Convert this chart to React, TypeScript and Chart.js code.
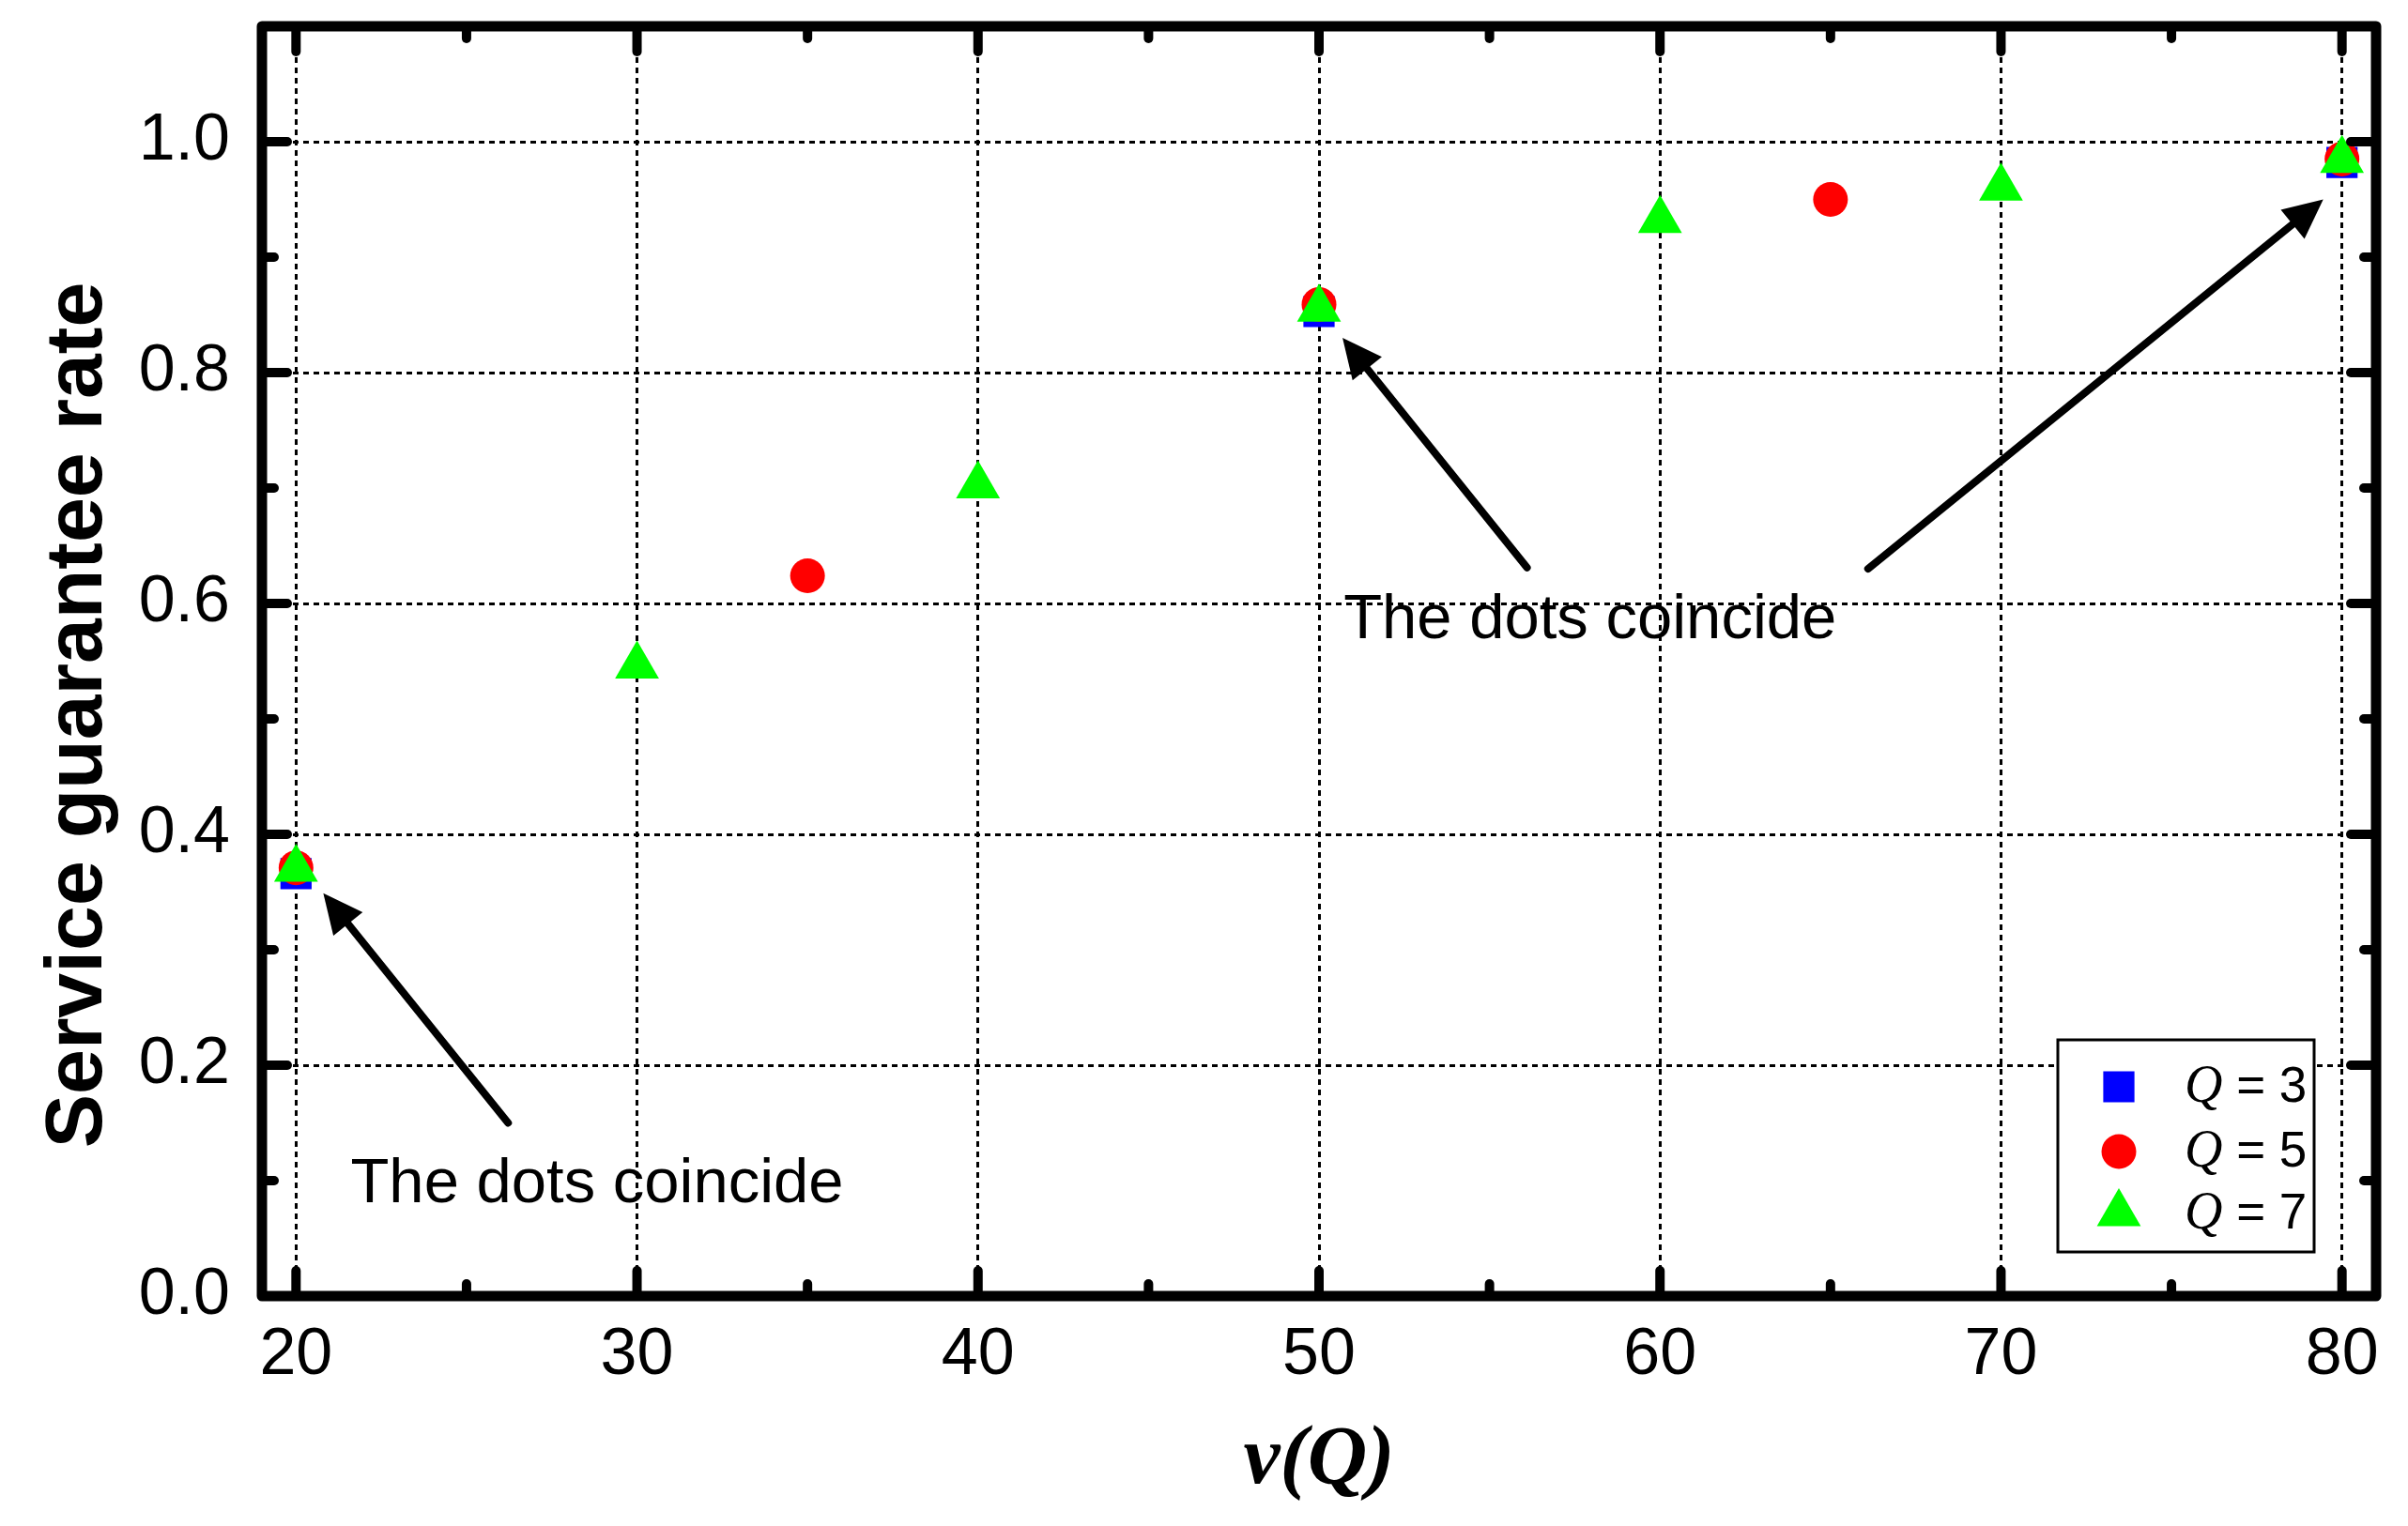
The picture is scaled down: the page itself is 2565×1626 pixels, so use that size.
import { useEffect, useRef } from 'react';
import { Chart, registerables } from 'chart.js';

Chart.register(...registerables);

// data
const xQ3 = [20, 50, 80];
const yQ3 = [0.366, 0.853, 0.982];
const xQ5 = [20, 35, 50, 65, 80];
const yQ5 = [0.371, 0.624, 0.859, 0.95, 0.985];
const xQ7 = [20, 30, 40, 50, 60, 70, 80];
const yQ7 = [0.37, 0.546, 0.702, 0.855, 0.932, 0.96, 0.984];
const qValues = ['3', '5', '7'];

const xTitle = 'v(Q)';
const yTitle = 'Service guarantee rate';
const noteText = 'The dots coincide';

// annotations in data units
const arrows = [
  { from: [26.22, 0.15], to: [20.8, 0.349] },
  { from: [56.1, 0.631], to: [50.69, 0.83] },
  { from: [66.1, 0.63], to: [79.45, 0.95] },
];
const notes = [
  { x: 21.6, y: 0.0813 },
  { x: 50.72, y: 0.57 },
];

const SANS = "'Liberation Sans', Arial, sans-serif";
const SERIF = "'Liberation Serif', 'Times New Roman', serif";

// same shapes as chart.js point styles, for the legend
function marker(ctx: CanvasRenderingContext2D, style: string, r: number, x: number, y: number) {
  ctx.beginPath();
  if (style === 'rect') {
    const s = Math.SQRT1_2 * r;
    ctx.rect(x - s, y - s, 2 * s, 2 * s);
  } else if (style === 'triangle') {
    ctx.moveTo(x, y - r);
    ctx.lineTo(x + Math.sin(Math.PI / 3 * 2) * r, y - Math.cos(Math.PI / 3 * 2) * r);
    ctx.lineTo(x + Math.sin(Math.PI / 3 * 4) * r, y - Math.cos(Math.PI / 3 * 4) * r);
    ctx.closePath();
  } else {
    ctx.arc(x, y, r, 0, Math.PI * 2);
  }
  ctx.fill();
}

const decor = {
  id: 'decor',
  afterDraw(chart: any) {
    const { ctx, chartArea: a, scales } = chart;
    const xs = scales.x;
    const ys = scales.y;
    ctx.save();
    ctx.strokeStyle = '#000';
    ctx.fillStyle = '#000';

    const seg = (x1: number, y1: number, x2: number, y2: number) => {
      ctx.beginPath();
      ctx.moveTo(x1, y1);
      ctx.lineTo(x2, y2);
      ctx.stroke();
    };

    // tick marks on all four sides, inward
    const xt = xs.ticks.map((t: any) => t.value);
    const yt = ys.ticks.map((t: any) => t.value);
    const mids = (v: number[]) => v.slice(1).map((t, i) => (t + v[i]) / 2);
    ctx.lineWidth = 10;
    ctx.lineCap = 'round';
    const xMarks = (vals: number[], len: number) =>
      vals.forEach((v) => {
        const p = xs.getPixelForValue(v);
        seg(p, a.bottom, p, a.bottom - len);
        seg(p, a.top, p, a.top + len);
      });
    const yMarks = (vals: number[], len: number) =>
      vals.forEach((v) => {
        const p = ys.getPixelForValue(v);
        seg(a.left, p, a.left + len, p);
        seg(a.right, p, a.right - len, p);
      });
    xMarks(xt, 27);
    xMarks(mids(xt), 13);
    yMarks(yt, 27);
    yMarks(mids(yt), 13);

    // frame
    ctx.lineWidth = 11;
    ctx.lineJoin = 'round';
    ctx.strokeRect(a.left, a.top, a.right - a.left, a.bottom - a.top);

    // arrows
    ctx.lineWidth = 8;
    arrows.forEach(({ from, to }) => {
      const x1 = xs.getPixelForValue(from[0]);
      const y1 = ys.getPixelForValue(from[1]);
      const x2 = xs.getPixelForValue(to[0]);
      const y2 = ys.getPixelForValue(to[1]);
      const ang = Math.atan2(y2 - y1, x2 - x1);
      const hl = 42;
      const hw = 20;
      const bx = x2 - Math.cos(ang) * hl;
      const by = y2 - Math.sin(ang) * hl;
      seg(x1, y1, bx + Math.cos(ang) * 6, by + Math.sin(ang) * 6);
      ctx.beginPath();
      ctx.moveTo(x2, y2);
      ctx.lineTo(bx - Math.sin(ang) * hw, by + Math.cos(ang) * hw);
      ctx.lineTo(bx + Math.sin(ang) * hw, by - Math.cos(ang) * hw);
      ctx.closePath();
      ctx.fill();
    });

    // notes
    ctx.font = `67px ${SANS}`;
    ctx.textAlign = 'left';
    ctx.textBaseline = 'alphabetic';
    notes.forEach((n) => {
      ctx.fillText(noteText, xs.getPixelForValue(n.x), ys.getPixelForValue(n.y));
    });

    // axis titles
    ctx.font = `bold italic 88px ${SERIF}`;
    ctx.textAlign = 'center';
    ctx.fillText(xTitle, (a.left + a.right) / 2, 1580);
    ctx.save();
    ctx.translate(108, 762);
    ctx.rotate(-Math.PI / 2);
    ctx.font = `bold 86px ${SANS}`;
    ctx.fillText(yTitle, 0, 0);
    ctx.restore();

    // legend
    const bw = 273;
    const bh = 226;
    const bx0 = a.right - 66 - bw;
    const by0 = a.bottom - 47 - bh;
    ctx.fillStyle = '#fff';
    ctx.fillRect(bx0, by0, bw, bh);
    ctx.lineWidth = 3;
    ctx.lineJoin = 'miter';
    ctx.strokeRect(bx0, by0, bw, bh);
    const rows = [50, 119, 185];
    chart.data.datasets.forEach((ds: any, i: number) => {
      const cy = by0 + rows[i];
      ctx.fillStyle = ds.backgroundColor;
      marker(ctx, ds.pointStyle, ds.pointRadius, bx0 + 65, cy);
      ctx.fillStyle = '#000';
      ctx.textAlign = 'left';
      ctx.font = `italic 56px ${SERIF}`;
      const tx = bx0 + 135;
      ctx.fillText('Q', tx, cy + 16);
      const qw = ctx.measureText('Q').width;
      ctx.font = `53px ${SANS}`;
      ctx.fillText(' = ' + qValues[i], tx + qw, cy + 16);
    });

    ctx.restore();
  },
};

const pts = (xv: number[], yv: number[]) => xv.map((x, i) => ({ x, y: yv[i] }));

export default function App() {
  const canvasRef = useRef<HTMLCanvasElement | null>(null);
  const chartRef = useRef<Chart | null>(null);

  useEffect(() => {
    document.body.style.margin = '0';
    document.body.style.overflow = 'hidden';
    if (!canvasRef.current) return;
    if (chartRef.current) chartRef.current.destroy();

    const tickFont = { family: SANS, size: 70 };

    chartRef.current = new Chart(canvasRef.current, {
      type: 'scatter',
      data: {
        datasets: [
          {
            label: 'Q = 3',
            data: pts(xQ3, yQ3),
            pointStyle: 'rect',
            pointRadius: 23.5,
            backgroundColor: '#0000ff',
            borderColor: '#0000ff',
            borderWidth: 0,
            order: 3,
          },
          {
            label: 'Q = 5',
            data: pts(xQ5, yQ5),
            pointStyle: 'circle',
            pointRadius: 18.5,
            backgroundColor: '#ff0000',
            borderColor: '#ff0000',
            borderWidth: 0,
            order: 2,
          },
          {
            label: 'Q = 7',
            data: pts(xQ7, yQ7),
            pointStyle: 'triangle',
            pointRadius: 27,
            backgroundColor: '#00ff00',
            borderColor: '#00ff00',
            borderWidth: 0,
            order: 1,
          },
        ],
      },
      options: {
        responsive: true,
        maintainAspectRatio: false,
        animation: false,
        layout: { padding: { top: 28, right: 34, left: 0, bottom: 0 } },
        scales: {
          x: {
            type: 'linear',
            min: 19,
            max: 81,
            afterFit: (s: any) => {
              s.height = 245;
              s.paddingLeft = 0;
              s.paddingRight = 0;
            },
            ticks: {
              stepSize: 10,
              includeBounds: false,
              padding: 22,
              color: '#000',
              font: tickFont,
              maxRotation: 0,
              autoSkip: false,
            },
            grid: { color: '#000', lineWidth: 3, drawTicks: false },
            border: { display: false, dash: [6, 5] },
          },
          y: {
            type: 'linear',
            min: 0,
            max: 1.1,
            afterFit: (s: any) => {
              s.width = 279;
              s.paddingTop = 0;
              s.paddingBottom = 0;
            },
            ticks: {
              stepSize: 0.2,
              includeBounds: false,
              padding: 34,
              color: '#000',
              font: tickFont,
              callback: (v: any) => Number(v).toFixed(1),
            },
            grid: { color: '#000', lineWidth: 3, drawTicks: false },
            border: { display: false, dash: [6, 5] },
          },
        },
        plugins: {
          legend: { display: false },
          tooltip: { enabled: false },
        },
      },
      plugins: [decor],
    });

    return () => {
      if (chartRef.current) {
        chartRef.current.destroy();
        chartRef.current = null;
      }
    };
  }, []);

  return (
    <div style={{ position: 'relative', width: '2565px', height: '1626px', background: '#fff' }}>
      <canvas ref={canvasRef} aria-label="Service guarantee rate vs v(Q)" />
    </div>
  );
}
